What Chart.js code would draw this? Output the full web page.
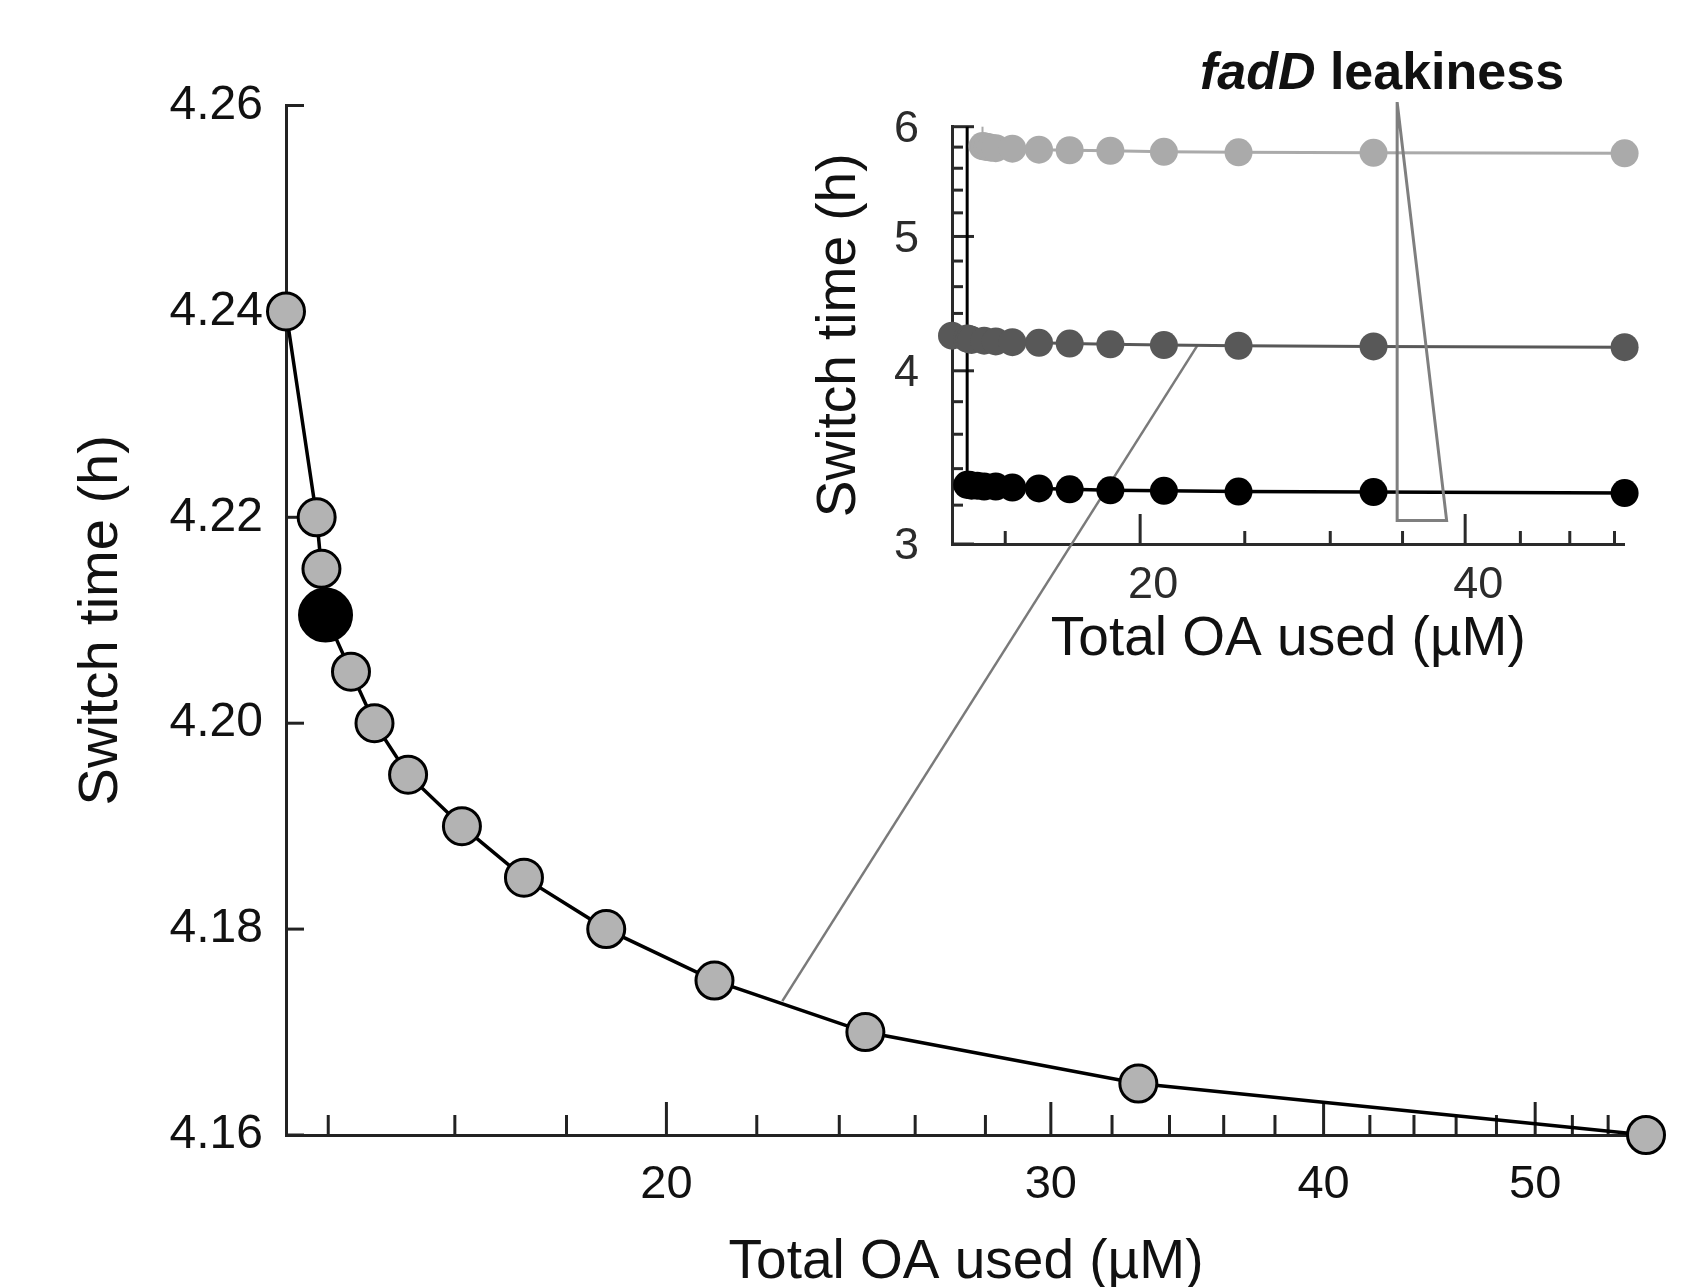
<!DOCTYPE html>
<html><head><meta charset="utf-8">
<script src="https://cdn.jsdelivr.net/npm/chart.js@4.4.1/dist/chart.umd.min.js"></script>
<style>
html,body{margin:0;padding:0;background:#fff;}
#wrap{position:relative;width:1705px;height:1287px;overflow:hidden;background:#fff;}
canvas{position:absolute;left:0;top:0;}
#lab{position:absolute;left:1082px;top:45px;width:600px;text-align:center;font:bold 52px "Liberation Sans",Arial,sans-serif;line-height:52px;color:#111;white-space:nowrap;}
</style></head><body>
<div id="wrap">
<canvas id="main" width="1705" height="1287"></canvas>
<canvas id="inset" width="1705" height="1287"></canvas>
<div id="lab"><i>fadD</i> leakiness</div>
</div>
<script>
// ---------- data ----------
const mainX = [13.39, 13.83, 13.90, 13.96, 14.34, 14.70, 15.23, 16.12, 17.21, 18.77, 21.04, 24.67, 32.90, 56.2];
const mainY = [4.240, 4.220, 4.215, 4.2105, 4.205, 4.200, 4.195, 4.190, 4.185, 4.180, 4.175, 4.170, 4.165, 4.160];
const highlightIndex = 3;
const mainYTicks = [4.16, 4.18, 4.20, 4.22, 4.24, 4.26];
const mainXMajor = [20, 30, 40, 50];
const mainXMinor = [14, 16, 18, 22, 24, 26, 28, 32, 34, 36, 38, 42, 44, 46, 48, 52, 54];

const lightX = [14.29, 14.36, 14.45, 14.55, 14.70, 15.23, 16.12, 17.21, 18.77, 21.04, 24.67, 32.90, 56.2];
const lightY = [5.81, 5.805, 5.80, 5.795, 5.79, 5.785, 5.775, 5.77, 5.765, 5.755, 5.75, 5.745, 5.74];
const darkX = mainX;
const darkY = mainY;
const blackX = [13.83, 13.90, 13.96, 14.13, 14.34, 14.70, 15.23, 16.12, 17.21, 18.77, 21.04, 24.67, 32.90, 56.2];
const blackY = [3.31, 3.31, 3.305, 3.305, 3.30, 3.30, 3.295, 3.29, 3.285, 3.28, 3.277, 3.273, 3.27, 3.265];
const insetYMajor = [3, 4, 5, 6];
const insetYMinor = [3.2, 3.4, 3.6, 3.8, 4.2, 4.4, 4.6, 4.8, 5.2, 5.4, 5.6, 5.8];
const insetXMajor = [20, 40];
const insetXMinor = [15, 25, 30, 35, 45, 50, 55];

// zoom connector point (same data point in both panels)
const connX = 22.6, connY = 4.173;
// leakiness wedge, in inset data coordinates
const wedgeX = [34.6, 34.6, 38.45];
const wedgeY = [6.25, 3.12, 3.12];

const FAM = '"Liberation Sans", Arial, Helvetica, sans-serif';
const pts = (xs, ys) => xs.map((x, i) => ({x: x, y: ys[i]}));

function tickPlugin(xMaj, xMin, yMaj, yMin, L, color, w) {
  return {
    id: 'inTicks',
    beforeDatasetsDraw(chart) {
      const ctx = chart.ctx, a = chart.chartArea, xs = chart.scales.x, ys = chart.scales.y;
      ctx.save(); ctx.strokeStyle = color; ctx.lineWidth = w; ctx.lineCap = 'butt';
      const seg = (x1, y1, x2, y2) => { ctx.beginPath(); ctx.moveTo(x1, y1); ctx.lineTo(x2, y2); ctx.stroke(); };
      xMaj.forEach(v => { const p = xs.getPixelForValue(v); seg(p, a.bottom, p, a.bottom - L.xMaj); });
      xMin.forEach(v => { const p = xs.getPixelForValue(v); seg(p, a.bottom, p, a.bottom - L.xMin); });
      yMaj.forEach(v => { const p = ys.getPixelForValue(v); seg(a.left, p, a.left + L.yMaj, p); });
      yMin.forEach(v => { const p = ys.getPixelForValue(v); seg(a.left, p, a.left + L.yMin, p); });
      ctx.restore();
    }
  };
}

// ---------- main chart ----------
const mainChart = new Chart(document.getElementById('main'), {
  type: 'line',
  data: { datasets: [{
    data: pts(mainX, mainY),
    borderColor: '#000', borderWidth: 3.5, tension: 0, fill: false, clip: false,
    pointRadius: mainX.map((_, i) => i === highlightIndex ? 26 : 18.5),
    pointBackgroundColor: mainX.map((_, i) => i === highlightIndex ? '#000' : '#b3b3b3'),
    pointBorderColor: '#000', pointBorderWidth: 3
  }]},
  options: {
    responsive: false, animation: false, events: [],
    layout: { autoPadding: false, padding: { left: 0, right: 59, top: 105.5, bottom: 0 } },
    plugins: { legend: { display: false }, tooltip: { enabled: false } },
    scales: {
      x: {
        type: 'logarithmic', min: mainX[0], max: mainX[mainX.length - 1], position: 'bottom',
        afterFit(s) { s.height = 152; },
        afterBuildTicks(s) { s.ticks = mainXMajor.concat(mainXMinor).sort((a, b) => a - b).map(v => ({value: v})); },
        grid: { display: false }, border: { display: true, color: '#222', width: 3 },
        ticks: { autoSkip: false, maxRotation: 0, padding: 14, color: '#111', font: { family: FAM, size: 47 },
          callback: v => mainXMajor.includes(v) ? String(v) : '' },
        title: { display: true, text: 'Total OA used (µM)', color: '#111',
          font: { family: FAM, size: 55, lineHeight: 0.85 }, padding: { top: 0, bottom: 0.5 } }
      },
      y: {
        type: 'linear', min: 4.16, max: 4.26, position: 'left',
        afterFit(s) { s.width = 286; },
        afterBuildTicks(s) { s.ticks = mainYTicks.map(v => ({value: v})); },
        grid: { display: false }, border: { display: true, color: '#222', width: 3 },
        ticks: { autoSkip: false, padding: 15, color: '#111', font: { family: FAM, size: 48 },
          callback: v => Number(v).toFixed(2) },
        title: { display: true, text: 'Switch time (h)', color: '#111',
          font: { family: FAM, size: 56 }, padding: { top: 68, bottom: 0 } }
      }
    }
  },
  plugins: [tickPlugin(mainXMajor, mainXMinor, mainYTicks, [], {xMaj: 33, xMin: 20, yMaj: 18, yMin: 18}, '#222', 3)]
});

// ---------- inset ----------
const insetExtras = {
  id: 'insetExtras',
  beforeDatasetsDraw(chart) {
    const ctx = chart.ctx, xs = chart.scales.x, ys = chart.scales.y;
    const mx = mainChart.scales.x, my = mainChart.scales.y;
    ctx.save();
    // zoom connector
    ctx.strokeStyle = '#7a7a7a'; ctx.lineWidth = 2.5;
    ctx.beginPath();
    ctx.moveTo(mx.getPixelForValue(connX), my.getPixelForValue(connY));
    ctx.lineTo(xs.getPixelForValue(connX), ys.getPixelForValue(connY));
    ctx.stroke();
    // drop lines to the first point of the series
    ctx.strokeStyle = '#000'; ctx.lineWidth = 3;
    let px = xs.getPixelForValue(blackX[0]);
    ctx.beginPath(); ctx.moveTo(px, ys.getPixelForValue(6)); ctx.lineTo(px, ys.getPixelForValue(blackY[0])); ctx.stroke();
    ctx.strokeStyle = '#aaaaaa'; ctx.lineWidth = 2;
    px = xs.getPixelForValue(lightX[0]);
    ctx.beginPath(); ctx.moveTo(px, ys.getPixelForValue(6)); ctx.lineTo(px, ys.getPixelForValue(lightY[0])); ctx.stroke();
    ctx.restore();
  },
  afterDatasetsDraw(chart) {
    const ctx = chart.ctx, xs = chart.scales.x, ys = chart.scales.y;
    ctx.save();
    ctx.strokeStyle = '#7f7f7f'; ctx.lineWidth = 3; ctx.lineJoin = 'miter';
    ctx.beginPath();
    wedgeX.forEach((x, i) => {
      const p = xs.getPixelForValue(x), q = ys.getPixelForValue(wedgeY[i]);
      if (i === 0) ctx.moveTo(p, q); else ctx.lineTo(p, q);
    });
    ctx.closePath(); ctx.stroke();
    ctx.restore();
  }
};

const ser = (xs, ys, c, bw) => ({
  data: pts(xs, ys), borderColor: c, backgroundColor: c, borderWidth: bw, tension: 0, fill: false, clip: false,
  pointRadius: 14, pointBackgroundColor: c, pointBorderWidth: 0
});

new Chart(document.getElementById('inset'), {
  type: 'line',
  data: { datasets: [
    ser(lightX, lightY, '#aaaaaa', 3),
    ser(darkX, darkY, '#585858', 3),
    ser(blackX, blackY, '#000000', 3.5)
  ]},
  options: {
    responsive: false, animation: false, events: [],
    layout: { autoPadding: false, padding: { left: 780, right: 80.4, top: 126.7, bottom: 623 } },
    plugins: { legend: { display: false }, tooltip: { enabled: false } },
    scales: {
      x: {
        type: 'logarithmic', min: mainX[0], max: mainX[mainX.length - 1], position: 'bottom',
        afterFit(s) { s.height = 120; },
        afterBuildTicks(s) { s.ticks = insetXMajor.concat(insetXMinor).sort((a, b) => a - b).map(v => ({value: v})); },
        grid: { display: false }, border: { display: true, color: '#2a2a2a', width: 3 },
        ticks: { autoSkip: false, maxRotation: 0, padding: 6.5, labelOffset: 13, color: '#2b2b2b', font: { family: FAM, size: 45 },
          callback: v => insetXMajor.includes(v) ? String(v) : '' },
        title: { display: true, text: 'Total OA used (µM)', color: '#111',
          font: { family: FAM, size: 55, lineHeight: 0.88 }, padding: { top: 0, bottom: 0 } }
      },
      y: {
        type: 'logarithmic', min: 3, max: 6, position: 'left',
        afterFit(s) { s.width = 172; },
        afterBuildTicks(s) { s.ticks = insetYMajor.concat(insetYMinor).sort((a, b) => a - b).map(v => ({value: v})); },
        grid: { display: false }, border: { display: true, color: '#2a2a2a', width: 3 },
        ticks: { autoSkip: false, padding: 25, labelOffset: 3, color: '#2b2b2b', font: { family: FAM, size: 45 },
          callback: v => insetYMajor.includes(v) ? String(v) : '' },
        title: { display: true, text: 'Switch time (h)', color: '#111',
          font: { family: FAM, size: 55 }, padding: { top: 27, bottom: 0 } }
      }
    }
  },
  plugins: [tickPlugin(insetXMajor, insetXMinor, insetYMajor, insetYMinor, {xMaj: 30, xMin: 13, yMaj: 22, yMin: 11}, '#2a2a2a', 3), insetExtras]
});
</script>
</body></html>
